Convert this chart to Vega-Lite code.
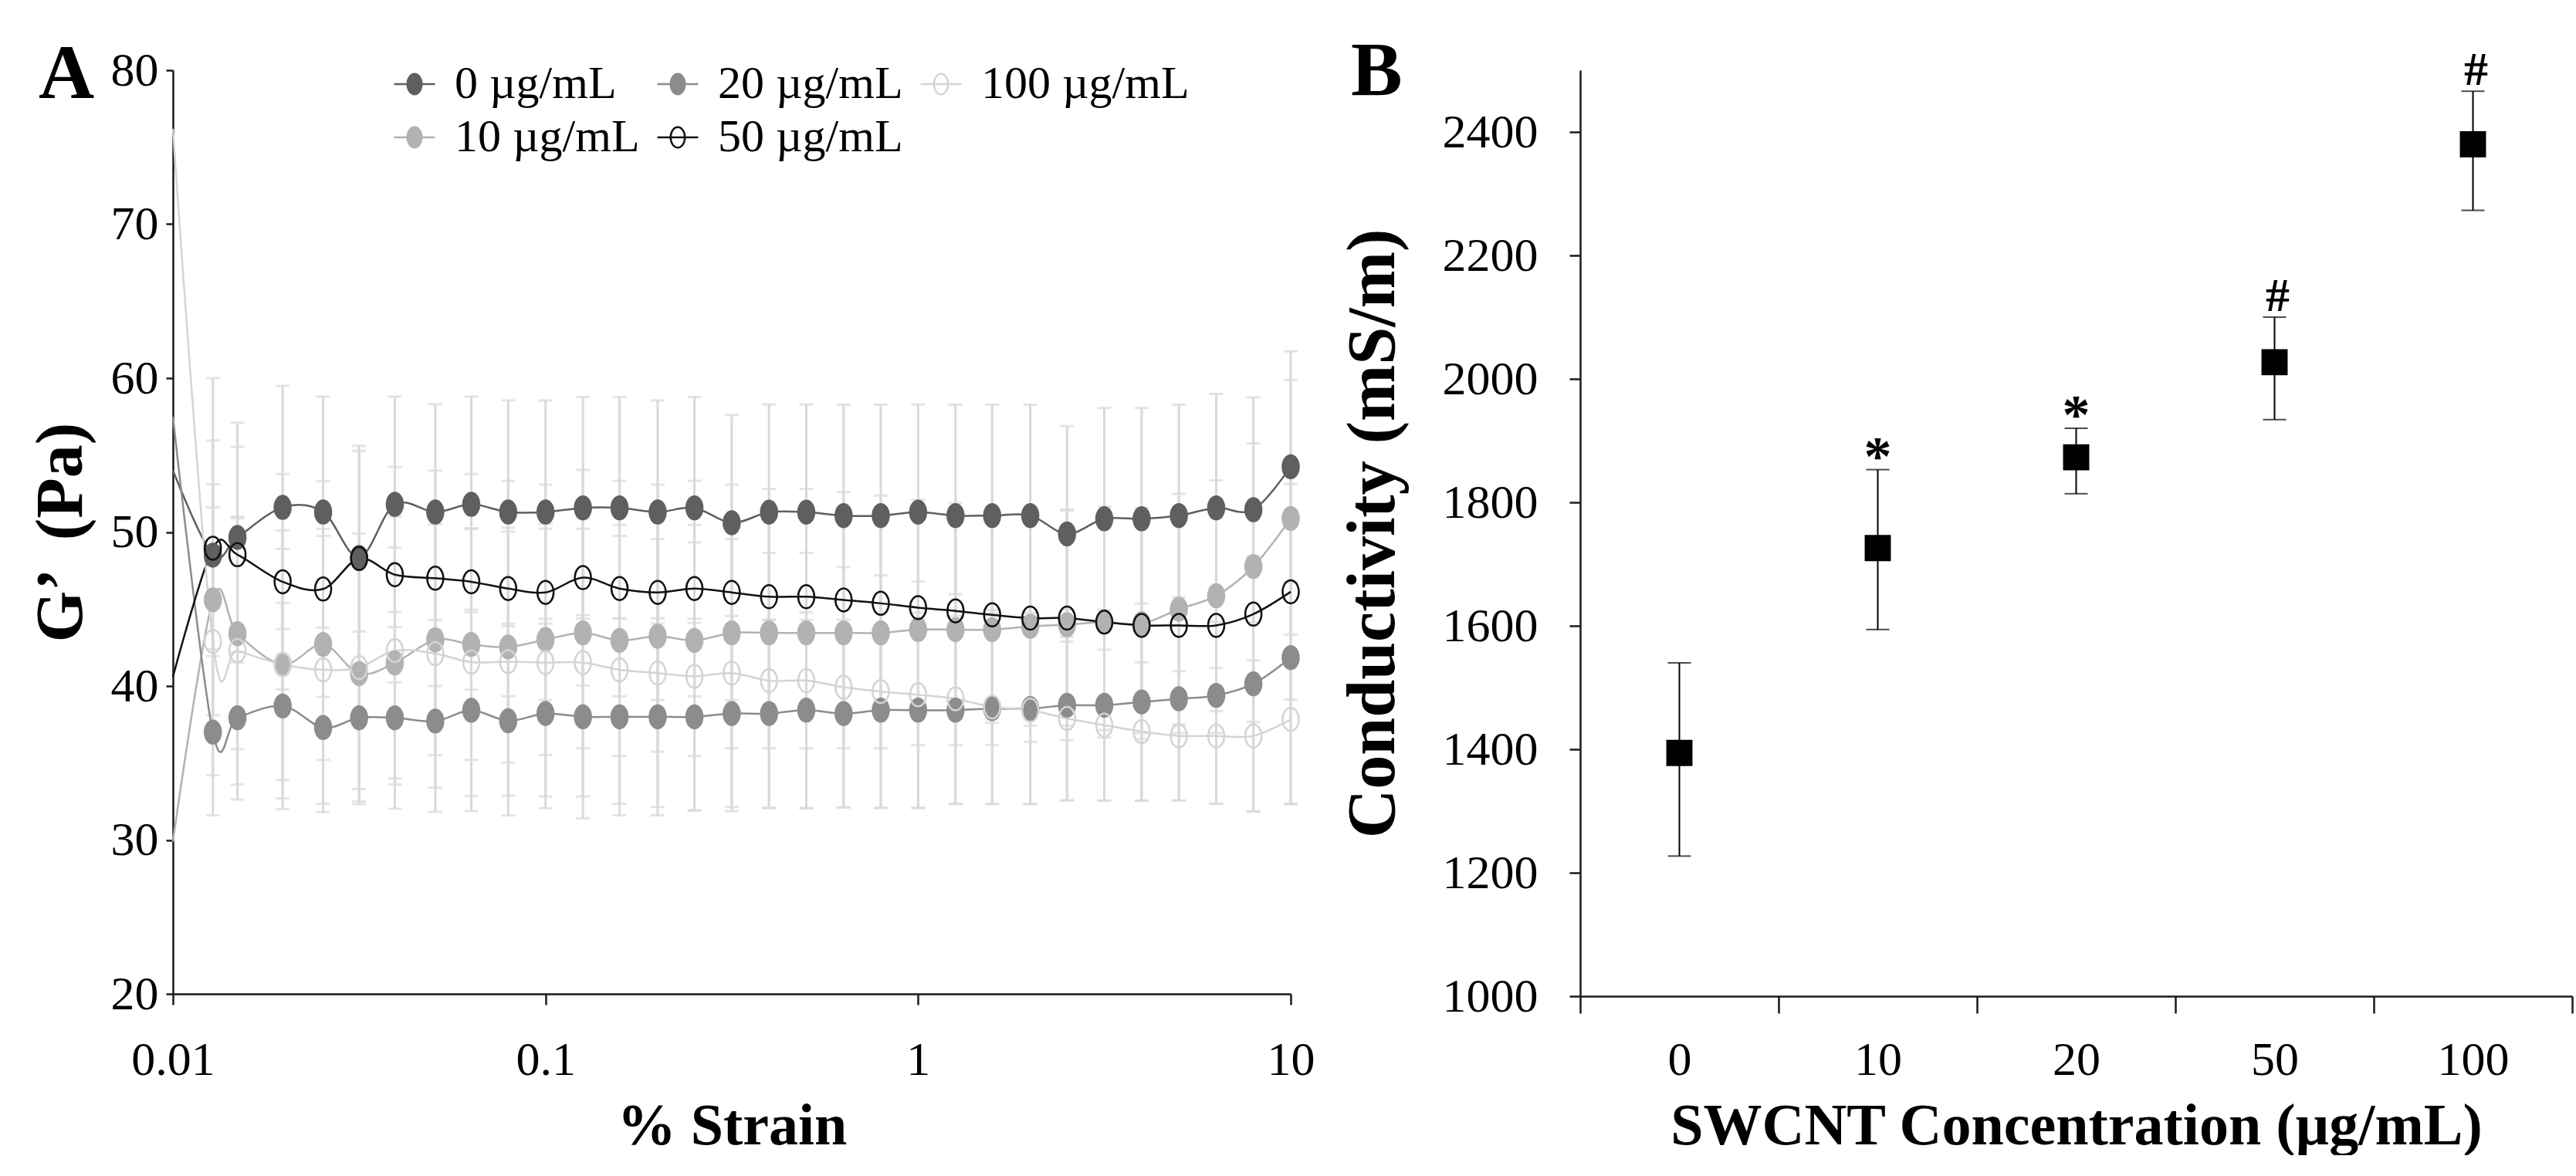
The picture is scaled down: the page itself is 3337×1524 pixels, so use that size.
{
  "$schema": "https://vega.github.io/schema/vega-lite/v6.json",
  "background": "white",
  "padding": {"left": 36, "top": 43, "right": 0, "bottom": 0},
  "config": {
    "font": "Liberation Serif",
    "view": {"stroke": null},
    "axis": {"labelFont": "Liberation Serif", "titleFont": "Liberation Serif", "labelColor": "black", "titleColor": "black", "domainColor": "#1a1a1a", "tickColor": "#1a1a1a", "domainWidth": 2.5, "tickWidth": 2.5, "grid": false, "labelFontSize": 62, "titleFontWeight": "bold", "labelFontWeight": "normal"},
    "title": {"font": "Liberation Serif", "fontSize": 100, "fontWeight": "bold", "anchor": "start", "frame": "group", "offset": 0, "baseline": "alphabetic", "color": "black"}
  },
  "datasets": {
    "strain": [
      {"x":0.01,"c":"0 µg/mL","g":54.0,"e":0},{"x":0.0128,"c":"0 µg/mL","g":48.5,"e":11.5},{"x":0.0149,"c":"0 µg/mL","g":49.65,"e":7.45},{"x":0.0197,"c":"0 µg/mL","g":51.6,"e":7.9},{"x":0.0253,"c":"0 µg/mL","g":51.3,"e":7.5},{"x":0.0316,"c":"0 µg/mL","g":48.35,"e":7.25},{"x":0.0394,"c":"0 µg/mL","g":51.8,"e":7.0},{"x":0.0506,"c":"0 µg/mL","g":51.3,"e":7.0},{"x":0.0632,"c":"0 µg/mL","g":51.8,"e":7.0},{"x":0.0794,"c":"0 µg/mL","g":51.3,"e":7.25},{"x":0.1,"c":"0 µg/mL","g":51.3,"e":7.25},{"x":0.126,"c":"0 µg/mL","g":51.57,"e":7.2},{"x":0.158,"c":"0 µg/mL","g":51.57,"e":7.2},{"x":0.2,"c":"0 µg/mL","g":51.3,"e":7.25},{"x":0.251,"c":"0 µg/mL","g":51.57,"e":7.2},{"x":0.316,"c":"0 µg/mL","g":50.6,"e":7.0},{"x":0.398,"c":"0 µg/mL","g":51.29,"e":7.0},{"x":0.501,"c":"0 µg/mL","g":51.29,"e":7.0},{"x":0.631,"c":"0 µg/mL","g":51.07,"e":7.2},{"x":0.794,"c":"0 µg/mL","g":51.07,"e":7.2},{"x":1,"c":"0 µg/mL","g":51.29,"e":7.0},{"x":1.26,"c":"0 µg/mL","g":51.07,"e":7.2},{"x":1.58,"c":"0 µg/mL","g":51.07,"e":7.2},{"x":2,"c":"0 µg/mL","g":51.07,"e":7.2},{"x":2.51,"c":"0 µg/mL","g":49.88,"e":7.0},{"x":3.16,"c":"0 µg/mL","g":50.86,"e":7.2},{"x":3.98,"c":"0 µg/mL","g":50.86,"e":7.2},{"x":5.01,"c":"0 µg/mL","g":51.07,"e":7.2},{"x":6.31,"c":"0 µg/mL","g":51.57,"e":7.4},{"x":7.94,"c":"0 µg/mL","g":51.45,"e":7.3},{"x":10,"c":"0 µg/mL","g":54.24,"e":7.5},
      {"x":0.01,"c":"10 µg/mL","g":29.9,"e":0},{"x":0.0128,"c":"10 µg/mL","g":45.6,"e":7.5},{"x":0.0149,"c":"10 µg/mL","g":43.4,"e":7.5},{"x":0.0197,"c":"10 µg/mL","g":41.4,"e":7.5},{"x":0.0253,"c":"10 µg/mL","g":42.7,"e":7.5},{"x":0.0316,"c":"10 µg/mL","g":40.8,"e":7.5},{"x":0.0394,"c":"10 µg/mL","g":41.5,"e":7.5},{"x":0.0506,"c":"10 µg/mL","g":43.0,"e":7.5},{"x":0.0632,"c":"10 µg/mL","g":42.7,"e":7.5},{"x":0.0794,"c":"10 µg/mL","g":42.53,"e":7.5},{"x":0.1,"c":"10 µg/mL","g":43.02,"e":7.5},{"x":0.126,"c":"10 µg/mL","g":43.45,"e":7.5},{"x":0.158,"c":"10 µg/mL","g":42.96,"e":7.5},{"x":0.2,"c":"10 µg/mL","g":43.23,"e":7.5},{"x":0.251,"c":"10 µg/mL","g":42.96,"e":7.5},{"x":0.316,"c":"10 µg/mL","g":43.45,"e":7.5},{"x":0.398,"c":"10 µg/mL","g":43.45,"e":7.5},{"x":0.501,"c":"10 µg/mL","g":43.45,"e":7.5},{"x":0.631,"c":"10 µg/mL","g":43.45,"e":7.5},{"x":0.794,"c":"10 µg/mL","g":43.45,"e":7.5},{"x":1,"c":"10 µg/mL","g":43.66,"e":7.5},{"x":1.26,"c":"10 µg/mL","g":43.66,"e":7.5},{"x":1.58,"c":"10 µg/mL","g":43.66,"e":7.5},{"x":2,"c":"10 µg/mL","g":43.87,"e":7.5},{"x":2.51,"c":"10 µg/mL","g":43.98,"e":7.5},{"x":3.16,"c":"10 µg/mL","g":44.15,"e":7.5},{"x":3.98,"c":"10 µg/mL","g":44.05,"e":7.5},{"x":5.01,"c":"10 µg/mL","g":44.99,"e":7.5},{"x":6.31,"c":"10 µg/mL","g":45.86,"e":7.5},{"x":7.94,"c":"10 µg/mL","g":47.76,"e":8.0},{"x":10,"c":"10 µg/mL","g":50.88,"e":9.0},
      {"x":0.01,"c":"20 µg/mL","g":57.5,"e":0},{"x":0.0128,"c":"20 µg/mL","g":37.0,"e":5.4},{"x":0.0149,"c":"20 µg/mL","g":37.93,"e":5.3},{"x":0.0197,"c":"20 µg/mL","g":38.7,"e":6.7},{"x":0.0253,"c":"20 µg/mL","g":37.3,"e":5.5},{"x":0.0316,"c":"20 µg/mL","g":37.93,"e":5.6},{"x":0.0394,"c":"20 µg/mL","g":37.93,"e":5.9},{"x":0.0506,"c":"20 µg/mL","g":37.72,"e":5.9},{"x":0.0632,"c":"20 µg/mL","g":38.42,"e":6.55},{"x":0.0794,"c":"20 µg/mL","g":37.74,"e":6.15},{"x":0.1,"c":"20 µg/mL","g":38.21,"e":6.15},{"x":0.126,"c":"20 µg/mL","g":38.0,"e":6.6},{"x":0.158,"c":"20 µg/mL","g":38.0,"e":6.4},{"x":0.2,"c":"20 µg/mL","g":38.0,"e":6.4},{"x":0.251,"c":"20 µg/mL","g":38.0,"e":6.1},{"x":0.316,"c":"20 µg/mL","g":38.21,"e":6.35},{"x":0.398,"c":"20 µg/mL","g":38.21,"e":6.1},{"x":0.501,"c":"20 µg/mL","g":38.43,"e":6.35},{"x":0.631,"c":"20 µg/mL","g":38.21,"e":6.1},{"x":0.794,"c":"20 µg/mL","g":38.43,"e":6.35},{"x":1,"c":"20 µg/mL","g":38.43,"e":6.35},{"x":1.26,"c":"20 µg/mL","g":38.43,"e":6.1},{"x":1.58,"c":"20 µg/mL","g":38.53,"e":6.2},{"x":2,"c":"20 µg/mL","g":38.53,"e":6.2},{"x":2.51,"c":"20 µg/mL","g":38.75,"e":6.2},{"x":3.16,"c":"20 µg/mL","g":38.75,"e":6.2},{"x":3.98,"c":"20 µg/mL","g":38.96,"e":6.4},{"x":5.01,"c":"20 µg/mL","g":39.17,"e":6.6},{"x":6.31,"c":"20 µg/mL","g":39.39,"e":7.05},{"x":7.94,"c":"20 µg/mL","g":40.14,"e":8.3},{"x":10,"c":"20 µg/mL","g":41.84,"e":9.5},
      {"x":0.01,"c":"50 µg/mL","g":40.6,"e":0},{"x":0.0128,"c":"50 µg/mL","g":48.95,"e":7},{"x":0.0149,"c":"50 µg/mL","g":48.53,"e":7},{"x":0.0197,"c":"50 µg/mL","g":46.77,"e":7},{"x":0.0253,"c":"50 µg/mL","g":46.3,"e":7},{"x":0.0316,"c":"50 µg/mL","g":48.28,"e":7},{"x":0.0394,"c":"50 µg/mL","g":47.23,"e":7},{"x":0.0506,"c":"50 µg/mL","g":47.0,"e":7},{"x":0.0632,"c":"50 µg/mL","g":46.77,"e":7},{"x":0.0794,"c":"50 µg/mL","g":46.33,"e":7},{"x":0.1,"c":"50 µg/mL","g":46.08,"e":7},{"x":0.126,"c":"50 µg/mL","g":47.04,"e":7},{"x":0.158,"c":"50 µg/mL","g":46.33,"e":7},{"x":0.2,"c":"50 µg/mL","g":46.08,"e":7},{"x":0.251,"c":"50 µg/mL","g":46.33,"e":7},{"x":0.316,"c":"50 µg/mL","g":46.08,"e":7},{"x":0.398,"c":"50 µg/mL","g":45.8,"e":7},{"x":0.501,"c":"50 µg/mL","g":45.8,"e":7},{"x":0.631,"c":"50 µg/mL","g":45.59,"e":7},{"x":0.794,"c":"50 µg/mL","g":45.37,"e":7},{"x":1,"c":"50 µg/mL","g":45.09,"e":7},{"x":1.26,"c":"50 µg/mL","g":44.88,"e":7},{"x":1.58,"c":"50 µg/mL","g":44.62,"e":7},{"x":2,"c":"50 µg/mL","g":44.41,"e":7},{"x":2.51,"c":"50 µg/mL","g":44.41,"e":7},{"x":3.16,"c":"50 µg/mL","g":44.15,"e":7},{"x":3.98,"c":"50 µg/mL","g":43.94,"e":7},{"x":5.01,"c":"50 µg/mL","g":43.94,"e":7},{"x":6.31,"c":"50 µg/mL","g":43.94,"e":7},{"x":7.94,"c":"50 µg/mL","g":44.67,"e":7},{"x":10,"c":"50 µg/mL","g":46.12,"e":7},
      {"x":0.01,"c":"100 µg/mL","g":76.2,"e":0},{"x":0.0128,"c":"100 µg/mL","g":42.9,"e":8.7},{"x":0.0149,"c":"100 µg/mL","g":42.3,"e":8.7},{"x":0.0197,"c":"100 µg/mL","g":41.4,"e":8.7},{"x":0.0253,"c":"100 µg/mL","g":41.05,"e":8.7},{"x":0.0316,"c":"100 µg/mL","g":41.2,"e":8.7},{"x":0.0394,"c":"100 µg/mL","g":42.3,"e":8.7},{"x":0.0506,"c":"100 µg/mL","g":42.1,"e":8.7},{"x":0.0632,"c":"100 µg/mL","g":41.55,"e":8.7},{"x":0.0794,"c":"100 µg/mL","g":41.58,"e":8.7},{"x":0.1,"c":"100 µg/mL","g":41.52,"e":8.7},{"x":0.126,"c":"100 µg/mL","g":41.52,"e":8.7},{"x":0.158,"c":"100 µg/mL","g":41.05,"e":8.7},{"x":0.2,"c":"100 µg/mL","g":40.84,"e":8.7},{"x":0.251,"c":"100 µg/mL","g":40.63,"e":8.7},{"x":0.316,"c":"100 µg/mL","g":40.84,"e":8.7},{"x":0.398,"c":"100 µg/mL","g":40.35,"e":8.3},{"x":0.501,"c":"100 µg/mL","g":40.35,"e":8.3},{"x":0.631,"c":"100 µg/mL","g":39.92,"e":7.8},{"x":0.794,"c":"100 µg/mL","g":39.64,"e":7.55},{"x":1,"c":"100 µg/mL","g":39.43,"e":7.35},{"x":1.26,"c":"100 µg/mL","g":39.17,"e":6.8},{"x":1.58,"c":"100 µg/mL","g":38.64,"e":6.3},{"x":2,"c":"100 µg/mL","g":38.43,"e":6.1},{"x":2.51,"c":"100 µg/mL","g":37.89,"e":5.3},{"x":3.16,"c":"100 µg/mL","g":37.46,"e":4.9},{"x":3.98,"c":"100 µg/mL","g":37.04,"e":4.5},{"x":5.01,"c":"100 µg/mL","g":36.76,"e":4.2},{"x":6.31,"c":"100 µg/mL","g":36.76,"e":4.4},{"x":7.94,"c":"100 µg/mL","g":36.76,"e":4.9},{"x":10,"c":"100 µg/mL","g":37.83,"e":5.5}
    ],
    "cond": [
      {"conc":"0","mean":1394,"lo":1227,"hi":1540,"sig":""},
      {"conc":"10","mean":1726,"lo":1594,"hi":1853,"sig":"*"},
      {"conc":"20","mean":1873,"lo":1814,"hi":1920,"sig":"*"},
      {"conc":"50","mean":2027,"lo":1934,"hi":2100,"sig":"#"},
      {"conc":"100","mean":2380,"lo":2273,"hi":2466,"sig":"#"}
    ]
  },
  "bounds": "flush",
  "spacing": 375,
  "hconcat": [
    {
      "width": 1448,
      "height": 1197,
      "title": {"text": "A", "dx": -174, "dy": 92},
      "data": {"name": "strain"},
      "encoding": {
        "x": {"field": "x", "type": "quantitative", "title": "% Strain",
              "scale": {"type": "log", "domain": [0.01, 10], "nice": false},
              "axis": {"values": [0.01, 0.1, 1, 10], "format": "~g", "tickSize": 14, "labelPadding": 41, "titleFontSize": 76, "titlePadding": 18, "labelFlush": false}},
        "y": {"field": "g", "type": "quantitative", "title": "G’ \u00a0(Pa)",
              "scale": {"domain": [20, 80], "nice": false, "zero": false},
              "axis": {"values": [20, 30, 40, 50, 60, 70, 80], "tickSize": 9, "labelPadding": 10, "titleFontSize": 86, "titlePadding": 20}}
      },
      "layer": [
        {
          "transform": [{"filter": "datum.x > 0.011"}],
          "mark": {"type": "errorbar", "ticks": true, "size": 18, "thickness": 3, "color": "#d9d9d9"},
          "encoding": {"yError": {"field": "e"}, "detail": {"field": "c"}}
        },
        {
          "mark": {"type": "line", "interpolate": "cardinal", "strokeWidth": 2.5},
          "encoding": {
            "stroke": {"field": "c", "type": "nominal",
              "scale": {"domain": ["0 µg/mL", "10 µg/mL", "20 µg/mL", "50 µg/mL", "100 µg/mL"], "range": ["#5f5f5f", "#b2b2b2", "#8c8c8c", "#111111", "#d4d4d4"]},
              "legend": {"title": null, "orient": "none", "legendX": 283, "legendY": -12, "columns": 3, "symbolType": "M-2,0L2,0M-0.7,0A0.7,1 0 1,0 0.7,0A0.7,1 0 1,0 -0.7,0Z", "symbolSize": 702, "symbolStrokeWidth": 2.5, "labelFontSize": 60, "labelFont": "Liberation Serif", "labelColor": "black", "labelOffset": 22, "columnPadding": 17, "rowPadding": 9, "labelLimit": 400, "labelExpr": "datum.label == '0 µg/mL' ? '\u00a0\u00a0' + datum.label : datum.label"}}
          }
        },
        {
          "transform": [{"filter": "datum.x > 0.011"}],
          "mark": {"type": "point", "shape": "M-0.7,0A0.7,1 0 1,0 0.7,0A0.7,1 0 1,0 -0.7,0Z", "size": 900, "strokeWidth": 2.5, "opacity": 1, "fillOpacity": 1, "strokeOpacity": 1},
          "encoding": {
            "stroke": {"field": "c", "type": "nominal",
              "scale": {"domain": ["0 µg/mL", "10 µg/mL", "20 µg/mL", "50 µg/mL", "100 µg/mL"], "range": ["#5f5f5f", "#b2b2b2", "#8c8c8c", "#111111", "#d4d4d4"]},
              "legend": {"title": null, "orient": "none", "legendX": 283, "legendY": -12, "columns": 3, "symbolType": "M-2,0L2,0M-0.7,0A0.7,1 0 1,0 0.7,0A0.7,1 0 1,0 -0.7,0Z", "symbolSize": 702, "symbolStrokeWidth": 2.5, "labelFontSize": 60, "labelFont": "Liberation Serif", "labelColor": "black", "labelOffset": 22, "columnPadding": 17, "rowPadding": 9, "labelLimit": 400, "labelExpr": "datum.label == '0 µg/mL' ? '\u00a0\u00a0' + datum.label : datum.label"}},
            "fill": {"field": "c", "type": "nominal",
              "scale": {"domain": ["0 µg/mL", "10 µg/mL", "20 µg/mL", "50 µg/mL", "100 µg/mL"], "range": ["#5f5f5f", "#b2b2b2", "#8c8c8c", "transparent", "transparent"]},
              "legend": {"title": null, "orient": "none", "legendX": 283, "legendY": -12, "columns": 3, "symbolType": "M-2,0L2,0M-0.7,0A0.7,1 0 1,0 0.7,0A0.7,1 0 1,0 -0.7,0Z", "symbolSize": 702, "symbolStrokeWidth": 2.5, "labelFontSize": 60, "labelFont": "Liberation Serif", "labelColor": "black", "labelOffset": 22, "columnPadding": 17, "rowPadding": 9, "labelLimit": 400, "labelExpr": "datum.label == '0 µg/mL' ? '\u00a0\u00a0' + datum.label : datum.label"}}
          }
        }
      ]
    },
    {
      "width": 1285,
      "height": 1200,
      "title": {"text": "B", "dx": -297, "dy": 88},
      "data": {"name": "cond"},
      "encoding": {
        "x": {"field": "conc", "type": "ordinal", "sort": ["0", "10", "20", "50", "100"], "title": "SWCNT Concentration (µg/mL)",
              "scale": {"type": "band", "paddingInner": 0, "paddingOuter": 0},
              "axis": {"tickBand": "extent", "labelAngle": 0, "tickSize": 22, "labelPadding": 30, "titleFontSize": 76, "titlePadding": 18}}
      },
      "layer": [
        {
          "mark": {"type": "errorbar", "ticks": true, "size": 30, "thickness": 2, "color": "black"},
          "encoding": {
            "y": {"field": "lo", "type": "quantitative", "title": "Conductivity (mS/m)",
                  "scale": {"domain": [1000, 2500], "nice": false, "zero": false},
                  "axis": {"values": [1000, 1200, 1400, 1600, 1800, 2000, 2200, 2400], "format": "d", "tickSize": 14, "labelPadding": 41, "titleFontSize": 88, "titlePadding": 45}},
            "y2": {"field": "hi"}
          }
        },
        {
          "mark": {"type": "square", "size": 1150, "filled": true, "color": "black", "opacity": 1},
          "encoding": {
            "y": {"field": "mean", "type": "quantitative", "title": "Conductivity (mS/m)",
                  "scale": {"domain": [1000, 2500], "nice": false, "zero": false},
                  "axis": {"values": [1000, 1200, 1400, 1600, 1800, 2000, 2200, 2400], "format": "d", "tickSize": 14, "labelPadding": 41, "titleFontSize": 88, "titlePadding": 45}}
          }
        },
        {
          "transform": [{"filter": "datum.sig == '*'"}],
          "mark": {"type": "text", "fontSize": 72, "fontWeight": "bold", "font": "Liberation Serif", "baseline": "alphabetic", "dy": 6, "color": "black", "clip": false},
          "encoding": {
            "y": {"field": "hi", "type": "quantitative", "title": "Conductivity (mS/m)"},
            "text": {"field": "sig"}
          }
        },
        {
          "transform": [{"filter": "datum.sig == '#'"}],
          "mark": {"type": "text", "fontSize": 62, "fontWeight": "bold", "font": "Liberation Serif", "baseline": "alphabetic", "dy": -8, "dx": 4, "color": "black", "clip": false},
          "encoding": {
            "y": {"field": "hi", "type": "quantitative", "title": "Conductivity (mS/m)"},
            "text": {"field": "sig"}
          }
        }
      ]
    }
  ]
}
